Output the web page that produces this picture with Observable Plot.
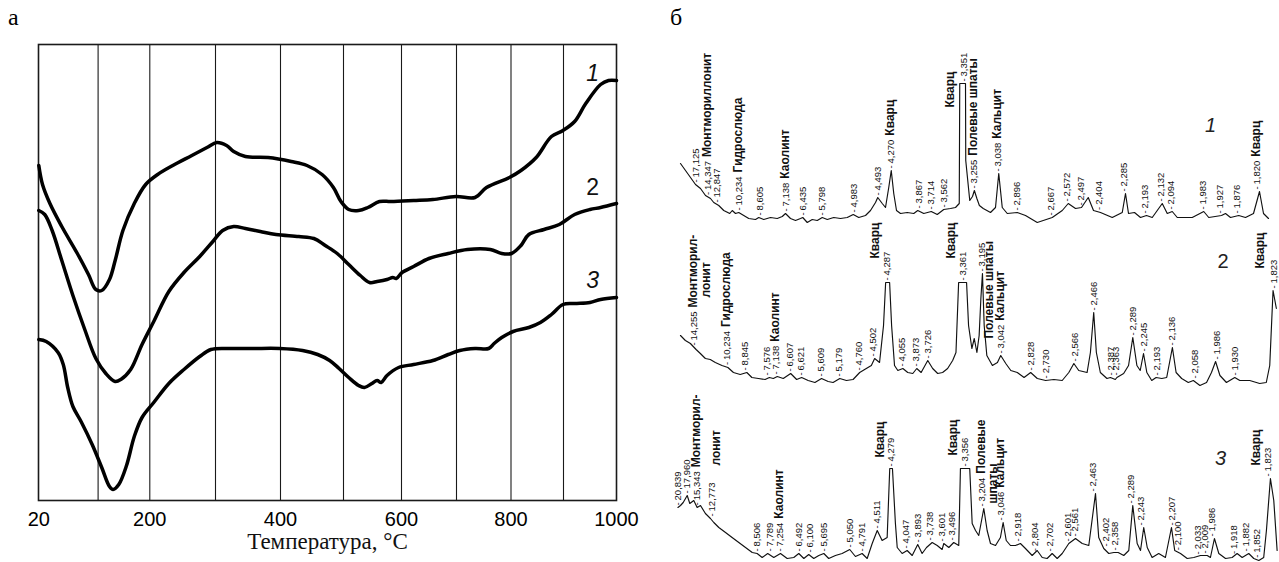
<!DOCTYPE html>
<html><head><meta charset="utf-8">
<script src="https://cdn.jsdelivr.net/npm/d3@7"></script>
<script src="https://cdn.jsdelivr.net/npm/@observablehq/plot@0.6"></script>
<style>
body{margin:0;background:#fff;}
#wrap{position:relative;width:1279px;height:562px;overflow:hidden;background:#fff;}
#wrap svg{position:absolute;top:0;overflow:visible;}
.letter{position:absolute;font-family:"Liberation Serif","DejaVu Serif",serif;font-size:24px;line-height:1;color:#000;}
</style></head><body>
<div id="wrap"><div class="letter" style="left:8px;top:5px">а</div><div class="letter" style="left:670px;top:5px">б</div></div>
<script>
// ---------- DTA (panel а) ----------
const dtaT1 = [20,25,35,51,72,87,97,107,122,133,148,170,192,212,235,264,287,302,317,328,346,381,417,442,466,484,496,509,526,542,562,582,622,657,699,734,755,797,819,848,877,899,921,942,970,985,1000];
const dtaV1 = [335,316,297,274,247,226,211,210,221,240,270,297,316,326,335,345,353,358,355,349,344,343,339,335,326,313,299,291,290,293,299,299,300,301,304,303,313,323,330,343,364,370,379,397,416,420,420];
const dtaT2 = [20,28,38,51,66,82,97,115,133,144,163,185,206,229,252,276,296,311,328,346,369,393,429,453,471,490,509,529,545,558,575,585,591,601,622,650,685,720,762,783,801,819,834,863,892,921,950,970,1000];
const dtaV2 = [290,286,270,240,205,171,142,127,119,121,131,156,179,209,228,244,259,270,274,272,269,266,264,262,255,247,236,225,218,219,221,223,222,228,234,242,247,251,251,247,247,255,266,271,276,286,291,293,297];
const dtaT3 = [20,30,46,53,59,66,77,92,107,122,129,140,155,170,185,206,229,252,276,293,322,357,399,435,459,478,493,509,526,536,549,558,565,575,595,622,657,685,706,734,759,769,783,804,834,856,877,899,921,950,970,1000];
const dtaV3 = [161,159,148,136,113,94,79,56,33,14,11,16,35,64,83,98,117,131,144,151,152,152,152,150,146,140,132,123,115,113,117,120,118,125,133,136,140,146,150,152,152,157,163,169,173,178,186,196,197,198,201,203];
const dtaNames = ["1","2","3"];
const tempGrid = [100,200,300,400,500,600,700,800,900];
const tempTicks = [20,200,400,600,800,1000];
const tempAxisTitle = "Температура, °C";

// ---------- XRD (panel б): [2θ (Cu Kα), intensity] ----------
const xrd1 = [[3.94,62],[4.34,55],[4.74,48],[5.14,41],[5.54,37],[5.94,30],[6.34,27],[6.60,23],[7.00,20],[7.40,15],[7.88,12],[8.08,15],[8.34,12],[8.60,13],[9.00,10],[9.40,7],[9.94,6],[10.20,8],[10.60,6],[11.14,8],[11.68,7],[12.08,9],[12.34,12],[12.74,7],[13.14,5],[13.54,7],[13.72,8],[14.08,3],[14.48,6],[14.88,5],[15.28,8],[15.68,6],[16.20,8],[16.74,7],[17.28,8],[17.76,11],[18.20,8],[18.74,10],[19.14,15],[19.54,23],[19.72,28],[20.08,22],[20.34,18],[20.60,38],[20.80,55],[21.00,32],[21.22,15],[21.54,12],[22.08,13],[22.60,12],[22.92,15],[23.40,12],[24.00,14],[24.48,11],[25.00,16],[25.54,17],[25.94,18],[26.24,22],[26.28,142],[26.74,142],[26.76,65],[27.08,25],[27.30,29],[27.45,35],[27.65,27],[27.85,20],[28.16,17],[28.74,13],[29.14,18],[29.40,52],[29.68,18],[30.08,12],[30.88,13],[31.54,10],[32.48,3],[33.68,8],[34.48,15],[34.96,22],[35.54,17],[36.02,18],[36.56,28],[36.98,15],[37.54,13],[38.48,8],[39.28,13],[39.54,32],[39.78,12],[40.26,13],[40.74,8],[41.22,10],[41.68,8],[42.48,22],[42.88,12],[43.28,14],[43.68,8],[44.88,8],[45.80,14],[46.20,8],[47.22,10],[47.54,12],[47.94,8],[48.60,10],[49.14,8],[49.78,12],[50.26,34],[50.58,12],[50.98,7]];
const xrd2 = [[5.15,60],[5.52,55],[5.90,52],[6.33,46],[6.65,42],[7.03,37],[7.40,36],[7.78,33],[8.28,30],[8.73,28],[9.15,23],[9.66,21],[10.16,23],[10.54,18],[11.03,17],[11.54,16],[11.86,18],[12.16,17],[12.46,19],[12.91,17],[13.47,22],[13.92,16],[14.30,18],[14.79,15],[15.30,13],[15.80,17],[16.30,14],[16.67,13],[17.18,17],[17.68,15],[18.18,16],[18.68,23],[19.18,27],[19.56,30],[19.81,37],[20.18,33],[20.48,70],[20.64,113],[20.94,113],[21.09,70],[21.31,30],[21.56,25],[21.94,27],[22.31,23],[22.69,22],[22.99,27],[23.32,23],[23.82,35],[24.19,27],[24.57,22],[24.94,23],[25.32,27],[25.70,35],[25.95,43],[26.15,113],[26.75,113],[26.90,70],[27.15,47],[27.33,57],[27.53,43],[27.70,60],[27.83,97],[27.95,122],[28.08,70],[28.28,40],[28.70,30],[29.08,33],[29.33,40],[29.71,32],[30.09,25],[30.58,23],[31.09,18],[31.59,23],[32.09,17],[32.72,15],[33.34,16],[33.97,15],[34.47,23],[34.85,32],[35.22,25],[35.85,23],[36.10,43],[36.35,83],[36.55,43],[36.85,23],[37.35,17],[37.61,18],[37.98,16],[38.10,18],[38.61,22],[38.98,30],[39.30,58],[39.61,30],[39.86,25],[40.11,42],[40.36,23],[40.73,15],[41.06,18],[41.49,17],[41.86,18],[42.29,48],[42.57,23],[42.99,17],[43.49,13],[43.87,15],[44.37,10],[44.87,13],[45.24,23],[45.55,34],[45.88,20],[46.37,13],[47.00,18],[47.38,15],[48.13,15],[48.88,12],[49.38,13],[49.64,30],[49.89,105],[50.14,87]];
const xrd3 = [[4.25,58],[4.45,60],[4.66,63],[4.97,70],[5.17,62],[5.48,65],[5.74,58],[6.00,60],[6.38,52],[6.77,47],[7.03,43],[7.42,38],[7.94,33],[8.45,28],[8.97,23],[9.49,18],[10.01,13],[10.39,12],[10.78,8],[11.21,12],[11.68,8],[12.20,12],[12.72,7],[13.23,8],[13.62,12],[14.01,7],[14.39,11],[14.78,7],[15.17,10],[15.56,12],[15.94,7],[16.46,10],[16.98,12],[17.57,16],[18.01,9],[18.53,12],[18.92,7],[19.31,22],[19.70,35],[20.08,25],[20.47,28],[20.67,97],[20.88,97],[21.11,42],[21.25,18],[21.63,12],[22.02,15],[22.41,10],[22.84,21],[23.18,12],[23.52,18],[23.96,23],[24.35,20],[24.73,16],[24.86,22],[25.25,18],[25.63,23],[26.02,20],[26.15,97],[26.87,97],[27.06,42],[27.32,35],[27.57,30],[27.96,57],[28.22,35],[28.48,22],[28.87,20],[29.25,28],[29.46,43],[29.70,25],[30.03,20],[30.42,20],[30.80,22],[31.19,17],[31.71,10],[32.10,15],[32.49,8],[32.87,7],[33.26,12],[33.65,7],[34.04,12],[34.55,22],[35.07,27],[35.59,22],[36.10,20],[36.62,72],[36.87,28],[37.26,17],[37.65,12],[38.04,13],[38.38,13],[38.81,10],[39.20,15],[39.51,60],[39.85,22],[40.11,15],[40.36,38],[40.63,18],[41.01,8],[41.52,12],[42.04,8],[42.51,38],[42.76,15],[43.21,12],[43.73,7],[44.24,8],[44.76,10],[45.28,10],[45.53,8],[45.84,27],[46.18,12],[46.70,7],[47.21,8],[47.60,12],[47.99,8],[48.50,12],[48.89,7],[49.28,5],[49.66,8],[49.87,35],[50.18,87],[50.44,65],[50.70,15]];

const xrd1Peaks = ["17,125","14,347","12,847","10,234","8,605","7,138","6,435","5,798","4,983","4,493","4,270","3,867","3,714","3,562","3,351","3,255","3,038","2,896","2,667","2,572","2,497","2,404","2,285","2,193","2,132","2,094","1,983","1,927","1,876","1,820"];
const xrd2Peaks = ["14,255","10,234","8,845","7,576","7,138","6,607","6,621","5,609","5,179","4,760","4,502","4,287","4,055","3,873","3,726","3,361","3,195","3,042","2,828","2,730","2,566","2,466","2,387","2,363","2,289","2,245","2,193","2,136","2,058","1,986","1,930","1,823"];
const xrd3Peaks = ["20,839","17,960","15,343","12,773","8,506","7,789","7,254","6,492","6,100","5,695","5,050","4,791","4,511","4,279","4,047","3,893","3,738","3,601","3,496","3,356","3,204","3,046","2,918","2,804","2,702","2,601","2,561","2,463","2,402","2,358","2,289","2,243","2,207","2,100","2,033","2,009","1,986","1,918","1,882","1,852","1,823"];
// peaks whose printed d does not match their 2θ position
const xrd2PeakPos = {"6,621": 14.27};
const xrd3PeakPos = {"2,207": 42.51};
// phase names written in the same column after the d value
const xrd1Phases = {"14,347":"Монтмориллонит","10,234":"Гидрослюда","7,138":"Каолинт","4,270":"Кварц","3,255":"Полевые шпаты","3,038":"Кальцит","1,820":"Кварц"};
const xrd2Phases = {"14,255":"Монтморил-","10,234":"Гидрослюда","7,138":"Каолинт","3,042":"Кальцит"};
const xrd3Phases = {"15,343":"Монтморил-","7,254":"Каолинт","3,204":"Полевые","3,046":"Кальцит"};
// phase names in their own column beside a peak: [peak, text, start intensity]
const xrd1Side = [["3,351","Кварц",118]];
const xrd2Side = [["14,255","лонит",98],["4,287","Кварц",137],["3,361","Кварц",137],["3,195","Полевые шпаты",57],["1,823","Кварц",127]];
const xrd3Side = [["12,773","лонит",100],["4,279","Кварц",108],["3,356","Кварц",110],["3,204","шпаты",62],["1,823","Кварц",100]];
const xrdNums = [["1",46.34,100],["2",46.12,134],["3",46.31,107]];

// ---------- helpers ----------
const SANS = "Liberation Sans, Arial, Helvetica, sans-serif";
const SERIF = "Liberation Serif, Times New Roman, serif";
const toTheta = d => 2 * Math.asin(1.5406 / (2 * parseFloat(d.replace(",", ".")))) * 180 / Math.PI;
function interp(xs, ys, x) {
  const i = d3.bisectLeft(xs, x);
  if (i <= 0) return ys[0];
  if (i >= xs.length) return ys[ys.length - 1];
  const t = (x - xs[i-1]) / (xs[i] - xs[i-1]);
  return ys[i-1] + t * (ys[i] - ys[i-1]);
}
function splitLabels(svg) {
  const ns = "http://www.w3.org/2000/svg";
  svg.querySelectorAll("text").forEach(t => {
    const s = t.textContent;
    if (!s.includes("|")) return;
    const [a, b] = s.split("|");
    t.textContent = "";
    const t1 = document.createElementNS(ns, "tspan"); t1.textContent = a;
    const t2 = document.createElementNS(ns, "tspan"); t2.textContent = b;
    t2.setAttribute("dx", "4"); t2.setAttribute("font-size", "12"); t2.setAttribute("font-weight", "bold");
    t.append(t1, t2);
  });
}

const wrap = document.getElementById("wrap");

// ---------- panel а ----------
const dtaCurves = [[dtaT1, dtaV1], [dtaT2, dtaV2], [dtaT3, dtaV3]];
const dtaLab = dtaCurves.map(([t, v], i) => ({t: 955, v: interp(t, v, 955), name: dtaNames[i]}));
const left = Plot.plot({
  width: 650, height: 562,
  marginLeft: 38, marginRight: 34, marginTop: 44, marginBottom: 62,
  style: {background: "transparent", fontFamily: SANS, color: "#000"},
  x: {type: "linear", domain: [20,100,200,300,400,500,600,700,800,900,1000],
      range: [38.3,97.6,149.3,215,280,343,401,456,510.5,563,616]},
  y: {domain: [0, 456], range: [500, 44], axis: null},
  marks: [
    Plot.ruleX(tempGrid, {stroke: "#1a1a1a", strokeWidth: 1.1}),
    Plot.frame({stroke: "#1a1a1a", strokeWidth: 1.6}),
    ...dtaCurves.map(([t, v]) => Plot.line(t.map((x, i) => [x, v[i]]), {x: "0", y: "1", curve: "catmull-rom", stroke: "#000", strokeWidth: 3.5, strokeLinejoin: "round"})),
    ...dtaLab.map((d, i) => Plot.text([d], {x: "t", y: "v", text: "name", dy: -21, fontSize: 23, fontStyle: i === 1 ? "normal" : "italic", fill: "#111"})),
    Plot.axisX({ticks: tempTicks, tickSize: 0, tickPadding: 11, fontSize: 20, label: null, tickFormat: d => String(d)}),
    Plot.text([tempAxisTitle], {frameAnchor: "bottom", dy: 48, fontSize: 23, fontFamily: SERIF, fill: "#111"})
  ]
});
left.style.left = "0px";
wrap.appendChild(left);

// ---------- panel б ----------
function xrdPlot(pts, peaks, pos, phases, side, num, conf) {
  const xs = pts.map(p => p[0]), ys = pts.map(p => p[1]);
  const labs = peaks.map(d => {
    const t = pos[d] ?? toTheta(d);
    const win = pts.filter(p => Math.abs(p[0] - t) <= 0.2).map(p => p[1]);
    win.push(interp(xs, ys, t));
    return {t, v: Math.max(...win), text: "-\u2009" + d + (phases[d] ? "|" + phases[d] : "")};
  });
  const sides = side.map(([d, text, v], i) => ({t: pos[d] ?? toTheta(d), v, text, dx: conf.sideDx[i]}));
  const svg = Plot.plot({
    width: 629, height: 562, margin: 0,
    style: {background: "transparent", fontFamily: SANS, color: "#111"},
    x: {domain: [4, 52], range: conf.xr, axis: null},
    y: {domain: [0, 150], range: [conf.base, conf.base - 150], axis: null},
    marks: [
      Plot.line(pts, {x: "0", y: "1", stroke: "#111", strokeWidth: 1.15, strokeLinejoin: "round"}),
      Plot.text(labs, {x: "t", y: "v", text: "text", rotate: -90, textAnchor: "start", dy: -2, fontSize: 9.5, fill: "#111"}),
      ...sides.map(s => Plot.text([s], {x: "t", y: "v", text: "text", rotate: -90, textAnchor: "start", dx: s.dx, fontSize: 12, fontWeight: "bold", fill: "#111"})),
      Plot.text([num], {x: "1", y: "2", text: "0", fontSize: 20, fontStyle: num[0] === "2" ? "normal" : "italic", fill: "#222"})
    ]
  });
  splitLabels(svg);
  svg.style.left = "650px";
  wrap.appendChild(svg);
}
xrdPlot(xrd1, xrd1Peaks, {}, xrd1Phases, xrd1Side, xrdNums[0], {xr: [30.75, 630.75], base: 225, sideDx: [-13]});
xrdPlot(xrd2, xrd2Peaks, xrd2PeakPos, xrd2Phases, xrd2Side, xrdNums[1], {xr: [14.75, 650.5], base: 395, sideDx: [12, -11, -12, 7, -14]});
xrdPlot(xrd3, xrd3Peaks, xrd3PeakPos, xrd3Phases, xrd3Side, xrdNums[2], {xr: [24.2, 643.4], base: 565, sideDx: [4, -11, -12, 11, -12]});
</script>
</body></html>
